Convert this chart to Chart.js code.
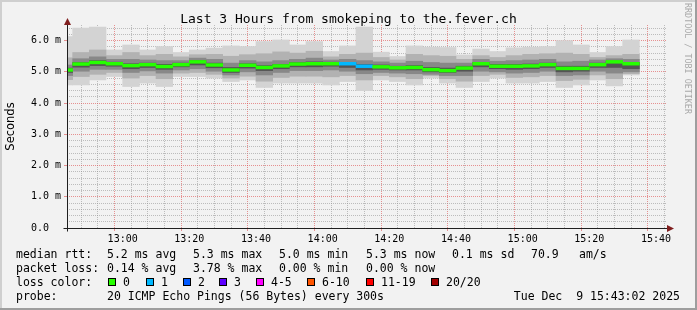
<!DOCTYPE html>
<html>
<head>
<meta charset="utf-8">
<script src="https://cdn.jsdelivr.net/npm/chart.js@4.4.1/dist/chart.umd.min.js"></script>
<style>
  html, body { margin:0; padding:0; background:#f2f2f2; }
  #wrap { position:relative; width:697px; height:310px; overflow:hidden; background:#f2f2f2; }
  #c { position:absolute; left:0; top:0; }
  .frame { position:absolute; }
  .txt { position:absolute; font-family:"DejaVu Sans Mono", monospace; font-size:11.5px; line-height:14px; color:#000; white-space:pre; }
  .title { font-size:13px; line-height:16px; left:0; width:697px; text-align:center; }
  .wm { position:absolute; left:683px; top:3px; writing-mode:vertical-rl; font-family:"DejaVu Sans Mono", monospace; font-size:8.4px; color:#a9a9a9; white-space:pre; }
  .box { position:absolute; width:6px; height:6px; border:1px solid #000; }
</style>
</head>
<body>
<div id="wrap">
  <canvas id="c" width="697" height="310"></canvas>
  <div class="frame" style="left:0;top:0;width:697px;height:2px;background:#cfcfcf"></div>
  <div class="frame" style="left:0;top:0;width:2px;height:310px;background:#cfcfcf"></div>
  <div class="frame" style="right:0;top:0;width:2px;height:310px;background:#9e9e9e"></div>
  <div class="frame" style="left:0;bottom:0;width:697px;height:2px;background:#9e9e9e"></div>
  <div class="txt title" style="top:11px">Last 3 Hours from smokeping to the.fever.ch</div>
  <div class="wm">RRDTOOL / TOBI OETIKER</div>
  <div id="legend"></div>
</div>
<script>
// ===== Data (5 min bins, start time of each bin) =====
const binStart = ['12:40','12:45','12:50','12:55','13:00','13:05','13:10','13:15','13:20','13:25',
  '13:30','13:35','13:40','13:45','13:50','13:55','14:00','14:05','14:10','14:15',
  '14:20','14:25','14:30','14:35','14:40','14:45','14:50','14:55','15:00','15:05',
  '15:10','15:15','15:20','15:25','15:30'];

// rtt in ms
const rttMax    = [6.13,6.40,6.43,5.70,5.86,5.70,5.81,5.62,5.70,5.76,5.83,5.81,5.97,6.02,5.86,5.97,5.65,5.83,6.43,5.63,5.49,5.83,5.79,5.78,5.54,5.73,5.65,5.77,5.79,5.81,6.00,5.86,5.62,5.81,6.02];
const rttP90    = [5.45,5.62,5.70,5.52,5.62,5.52,5.56,5.48,5.55,5.56,5.50,5.55,5.58,5.64,5.60,5.66,5.48,5.56,5.60,5.46,5.38,5.56,5.52,5.50,5.40,5.52,5.46,5.52,5.56,5.58,5.60,5.56,5.46,5.52,5.56];
const rttP75    = [5.22,5.42,5.48,5.40,5.40,5.38,5.36,5.36,5.44,5.40,5.28,5.36,5.32,5.36,5.40,5.44,5.38,5.40,5.36,5.32,5.28,5.34,5.30,5.28,5.28,5.40,5.34,5.36,5.38,5.40,5.32,5.34,5.38,5.42,5.40];
const rttP60    = [5.12,5.30,5.36,5.31,5.26,5.28,5.24,5.28,5.36,5.28,5.14,5.26,5.20,5.24,5.30,5.32,5.31,5.30,5.24,5.22,5.18,5.20,5.14,5.12,5.18,5.30,5.24,5.24,5.25,5.28,5.18,5.18,5.28,5.34,5.30];
const rttMedian = [5.06,5.25,5.30,5.26,5.20,5.23,5.17,5.23,5.32,5.22,5.06,5.21,5.14,5.19,5.25,5.26,5.26,5.26,5.18,5.16,5.13,5.14,5.07,5.04,5.12,5.26,5.18,5.18,5.19,5.23,5.11,5.11,5.23,5.32,5.26];
const rttP40    = [4.98,5.15,5.20,5.18,5.10,5.14,5.08,5.16,5.22,5.13,4.98,5.12,5.04,5.10,5.16,5.16,5.18,5.14,5.06,5.08,5.06,5.06,5.00,4.98,5.02,5.16,5.10,5.08,5.10,5.14,5.00,5.02,5.14,5.14,5.10];
const rttP25    = [4.88,5.02,5.08,5.08,4.98,5.03,4.96,5.06,5.10,5.02,4.90,5.00,4.90,4.98,5.04,5.04,5.06,5.02,4.94,4.98,4.96,4.94,4.92,4.88,4.88,5.02,5.00,4.96,4.98,5.02,4.88,4.90,5.02,4.96,5.00];
const rttP10    = [4.75,4.85,4.92,4.98,4.80,4.88,4.78,4.96,4.98,4.92,4.80,4.86,4.70,4.82,4.86,4.86,4.84,4.88,4.74,4.88,4.84,4.78,4.88,4.78,4.70,4.88,4.92,4.82,4.84,4.88,4.72,4.76,4.90,4.78,4.94];
const rttMin    = [4.58,4.58,4.74,4.85,4.53,4.64,4.53,4.85,4.85,4.80,4.69,4.74,4.50,4.64,4.64,4.64,4.58,4.69,4.40,4.74,4.69,4.58,4.80,4.64,4.50,4.69,4.80,4.64,4.64,4.69,4.50,4.58,4.74,4.55,4.90];
const lossCount = [0,0,0,0,0,0,0,0,0,0,0,0,0,0,0,0,0,1,1,0,0,0,0,0,0,0,0,0,0,0,0,0,0,0,0];

const lossLevels = ['0','1','2','3','4-5','6-10','11-19','20/20'];
const lossColors = ['#26ff00','#00b8ff','#0059ff','#5e00ff','#ff00ff','#ff5500','#ff0000','#a10000'];

const xTickMinutes = [60,80,100,120,140,160,180,200,220];  // minutes after 12:00
const xTickLabels  = ['13:00','13:20','13:40','14:00','14:20','14:40','15:00','15:20','15:40'];
const yTickValues  = [0,1,2,3,4,5,6];
const yTickLabels  = ['0.0  ','1.0 m','2.0 m','3.0 m','4.0 m','5.0 m','6.0 m'];

const X_MIN = 43.3, X_MAX = 223.3, Y_MAX = 6.5;

// ===== Helpers =====
const toMin = t => { const [h, m] = t.split(':').map(Number); return (h - 12) * 60 + m; };
const centers = binStart.map(t => toMin(t) + 2.5);
function lossIdx(n){
  if (n <= 3) return n;
  if (n <= 5) return 4;
  if (n <= 10) return 5;
  if (n <= 19) return 6;
  return 7;
}
const isMajorY = v => Math.abs(v - Math.round(v)) < 1e-6;

function band(lo, hi, color, order){
  return {
    data: centers.map((x, i) => ({ x, y: [lo[i], hi[i]] })),
    backgroundColor: color, order, grouped: false,
    barPercentage: 1, categoryPercentage: 1, borderWidth: 0, clip: 0
  };
}

// ===== Chart =====
const MGRID = 'rgba(222,79,79,0.6)';
const GRID  = 'rgba(143,143,143,0.55)';

// axis lines + arrow heads, rrdtool style
const axes = {
  id: 'axes',
  afterDraw(chart){
    const { ctx, chartArea: a } = chart;
    const L = Math.round(a.left) + 0.5, B = Math.round(a.bottom) + 0.5;
    ctx.save();
    ctx.strokeStyle = '#1f1f1f';
    ctx.lineWidth = 1;
    ctx.beginPath();
    ctx.moveTo(L - 4, B); ctx.lineTo(a.right + 1, B);
    ctx.moveTo(L, B + 3); ctx.lineTo(L, a.top - 2);
    ctx.stroke();
    ctx.fillStyle = '#801f1f';
    ctx.beginPath();
    ctx.moveTo(a.right + 7, B);
    ctx.lineTo(a.right, B - 3.5);
    ctx.lineTo(a.right, B + 3.5);
    ctx.fill();
    ctx.beginPath();
    ctx.moveTo(L, a.top - 7);
    ctx.lineTo(L - 3.5, a.top);
    ctx.lineTo(L + 3.5, a.top);
    ctx.fill();
    ctx.restore();
  }
};

new Chart(document.getElementById('c'), {
  type: 'bar',
  data: {
    datasets: [
      {
        data: centers.map((x, i) => ({ x, y: [rttMedian[i] - 0.045, rttMedian[i] + 0.045] })),
        backgroundColor: lossCount.map(n => lossColors[lossIdx(n)]),
        order: 1, grouped: false, barPercentage: 1, categoryPercentage: 1, borderWidth: 0, clip: 0
      },
      band(rttP40, rttP60, '#545454', 2),
      band(rttP25, rttP75, '#888888', 3),
      band(rttP10, rttP90, '#b2b2b2', 4),
      band(rttMin, rttMax, '#d3d3d3', 5)
    ]
  },
  options: {
    responsive: false, animation: false, devicePixelRatio: 1,
    layout: { padding: { left: 0, top: 25, right: 30, bottom: 62 } },
    plugins: { legend: { display: false }, tooltip: { enabled: false } },
    scales: {
      x: {
        type: 'linear', min: X_MIN, max: X_MAX, offset: false,
        afterBuildTicks: s => {
          const t = [];
          for (let m = 45; m < X_MAX; m += 5) t.push({ value: m });
          s.ticks = t;
        },
        afterFit: s => { s.height = 20; },
        ticks: {
          autoSkip: false, maxRotation: 0, padding: 2, color: '#000',
          font: { family: 'DejaVu Sans Mono', size: 10 },
          callback: v => { const k = xTickMinutes.indexOf(v); return k >= 0 ? xTickLabels[k] : ''; }
        },
        grid: {
          color: c => (c.tick && c.tick.value % 20 === 0) ? MGRID : GRID,
          tickColor: c => (c.tick && c.tick.value % 20 === 0) ? MGRID : 'rgba(0,0,0,0)',
          tickLength: 3
        },
        border: { display: false, dash: [1, 1] }
      },
      y: {
        min: 0, max: Y_MAX,
        afterBuildTicks: s => {
          const t = [];
          for (let k = 0; k * 0.2 < Y_MAX; k++) t.push({ value: +(k * 0.2).toFixed(1) });
          s.ticks = t;
        },
        afterFit: s => { s.width = 67; },
        ticks: {
          autoSkip: false, padding: 3, color: '#000',
          font: { family: 'DejaVu Sans Mono', size: 10 },
          callback: v => { const k = yTickValues.findIndex(y => Math.abs(y - v) < 1e-6); return k >= 0 ? yTickLabels[k] : ''; }
        },
        grid: {
          color: c => (c.tick && isMajorY(c.tick.value)) ? MGRID : GRID,
          tickColor: c => (c.tick && isMajorY(c.tick.value)) ? MGRID : 'rgba(0,0,0,0)',
          tickLength: 3
        },
        border: { display: false, dash: [1, 1] },
        title: { display: true, text: 'Seconds', color: '#000', font: { family: 'DejaVu Sans', size: 11.5 }, padding: { top: 4, bottom: 4 } }
      }
    }
  },
  plugins: [axes]
});

// ===== Legend text =====
const legendItems = [
  ['median rtt:', 16, 247], ['5.2 ms avg', 107, 247], ['5.3 ms max', 193, 247], ['5.0 ms min', 279, 247],
  ['5.3 ms now', 366, 247], ['0.1 ms sd', 452, 247], ['70.9', 531, 247], ['am/s', 579, 247],
  ['packet loss:', 16, 261], ['0.14 % avg', 107, 261], ['3.78 % max', 193, 261], ['0.00 % min', 279, 261], ['0.00 % now', 366, 261],
  ['loss color:', 16, 275],
  ['probe:', 16, 289], ['20 ICMP Echo Pings (56 Bytes) every 300s', 107, 289]
];
const boxX = [108, 146, 183, 219, 256, 307, 366, 431];
let html = legendItems.map(([t, x, y]) => `<div class="txt" style="left:${x}px;top:${y}px">${t}</div>`).join('');
html += lossLevels.map((lv, i) =>
  `<div class="box" style="left:${boxX[i]}px;top:278px;background:${lossColors[i]}"></div>` +
  `<div class="txt" style="left:${boxX[i] + 15}px;top:275px">${lv}</div>`).join('');
html += `<div class="txt" style="right:17px;top:289px">Tue Dec  9 15:43:02 2025</div>`;
document.getElementById('legend').innerHTML = html;
</script>
</body>
</html>
